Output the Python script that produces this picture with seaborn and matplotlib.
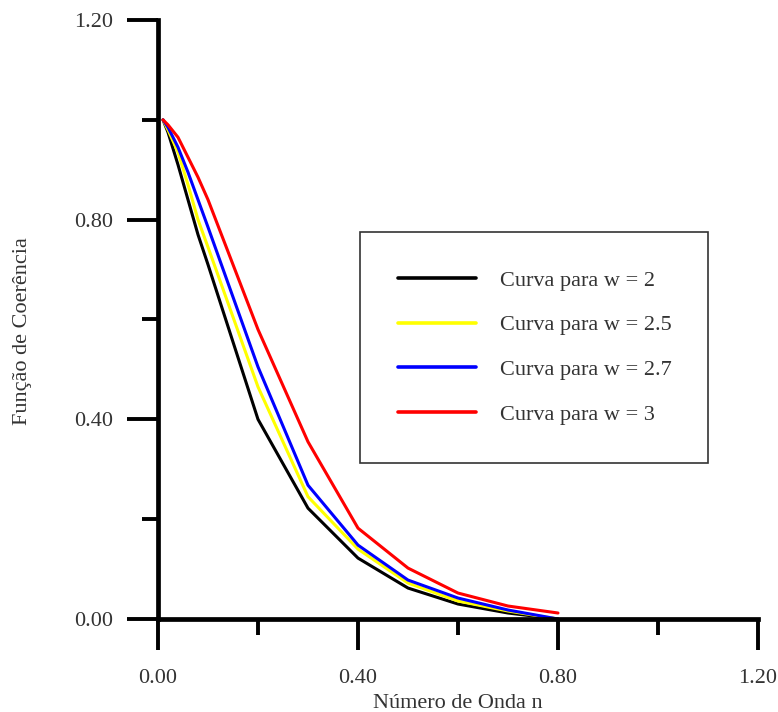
import pandas as pd
import matplotlib
matplotlib.use('Agg')
import matplotlib.pyplot as plt
import seaborn as sns
from matplotlib.ticker import MultipleLocator, FormatStrFormatter

sns.set_style('white')
plt.rcParams['font.family'] = ['Liberation Serif', 'DejaVu Serif']

# wave number n
n = [0.01, 0.02, 0.04, 0.06, 0.08, 0.10, 0.20, 0.30, 0.40, 0.50, 0.60, 0.70, 0.80]

# coherence function for each w
coh_w2 = [1.00, 0.975, 0.91, 0.84, 0.77, 0.71, 0.400, 0.222, 0.122, 0.062, 0.030, 0.012, 0.000]
coh_w25 = [1.00, 0.980, 0.935, 0.87, 0.80, 0.745, 0.465, 0.245, 0.140, 0.072, 0.036, 0.016, 0.000]
coh_w27 = [1.00, 0.985, 0.945, 0.895, 0.84, 0.785, 0.505, 0.268, 0.148, 0.078, 0.042, 0.018, 0.000]
coh_w3 = [1.00, 0.990, 0.965, 0.925, 0.885, 0.84, 0.580, 0.355, 0.182, 0.102, 0.052, 0.026, 0.012]

labels = ['Curva para w = 2', 'Curva para w = 2.5', 'Curva para w = 2.7', 'Curva para w = 3']
colors = ['#000000', '#FFFF00', '#0000FF', '#FF0000']
text_color = '#333333'

frames = []
for lab, vals in zip(labels, [coh_w2, coh_w25, coh_w27, coh_w3]):
    frames.append(pd.DataFrame({'n': n, 'coh': vals, 'curva': lab}))
df = pd.concat(frames, ignore_index=True)

fig = plt.figure(figsize=(7.78, 7.12), dpi=100)
ax = fig.add_axes([158 / 778, 93 / 712, 600 / 778, 599 / 712])

sns.lineplot(data=df, x='n', y='coh', hue='curva', palette=colors,
             linewidth=2.2, ax=ax, sort=False, estimator=None)

ax.set_xlim(0, 1.2)
ax.set_ylim(0, 1.2)

for side in ['top', 'right']:
    ax.spines[side].set_visible(False)
for side in ['left', 'bottom']:
    ax.spines[side].set_linewidth(3.4)
    ax.spines[side].set_color('black')

ax.xaxis.set_major_locator(MultipleLocator(0.4))
ax.xaxis.set_minor_locator(MultipleLocator(0.2))
ax.yaxis.set_major_locator(MultipleLocator(0.4))
ax.yaxis.set_minor_locator(MultipleLocator(0.2))
ax.xaxis.set_major_formatter(FormatStrFormatter('%.2f'))
ax.yaxis.set_major_formatter(FormatStrFormatter('%.2f'))

ax.tick_params(which='major', direction='out', length=22, width=2.8,
               color='black', labelsize=16, labelcolor=text_color)
ax.tick_params(axis='x', which='major', pad=14)
ax.tick_params(axis='y', which='major', pad=10)
ax.tick_params(which='minor', direction='out', length=11.5, width=2.8, color='black')
ax.tick_params(bottom=True, left=True, which='both')

ax.set_xlabel('Número de Onda n', fontsize=16, color=text_color)
ax.set_ylabel('Função de Coerência', fontsize=16, color=text_color)
ax.xaxis.set_label_coords(0.5, -0.125)
ax.yaxis.set_label_coords(-0.21, 0.48)

handles, labs = ax.get_legend_handles_labels()
leg = ax.legend(handles, labs, loc='upper left',
                bbox_to_anchor=(202 / 600, 387 / 599, 348 / 600, 0.0),
                mode='expand', borderaxespad=0, fontsize=16,
                frameon=True, fancybox=False, shadow=False,
                borderpad=1.71, labelspacing=1.09, handlelength=3.5,
                handletextpad=1.1)
leg.get_frame().set_edgecolor('black')
leg.get_frame().set_linewidth(1.2)
for line in leg.get_lines():
    line.set_linewidth(2.6)
for t in leg.get_texts():
    t.set_color(text_color)

fig.savefig('out.png', dpi=100)
